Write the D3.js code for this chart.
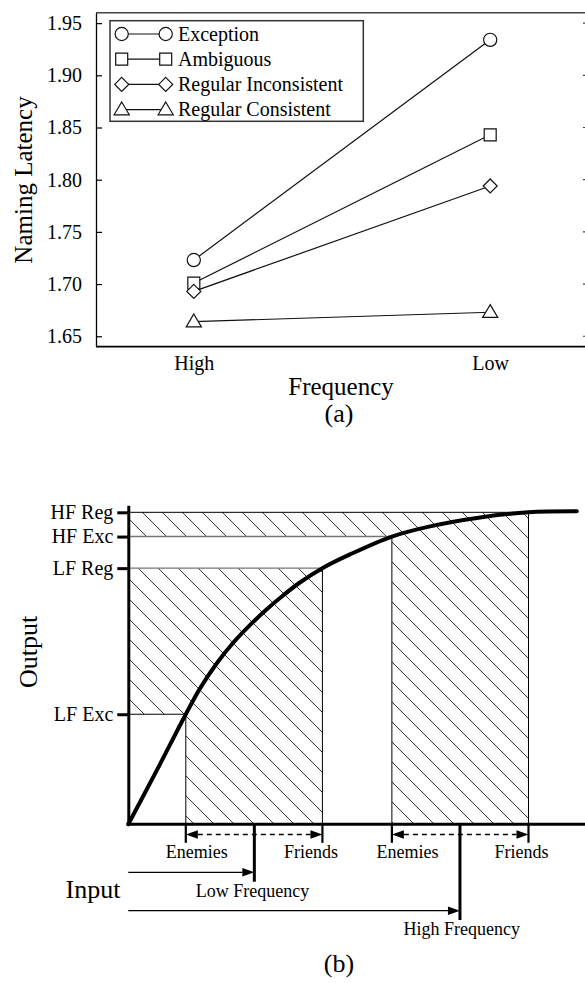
<!DOCTYPE html>
<html>
<head>
<meta charset="utf-8">
<script src="https://cdn.jsdelivr.net/npm/d3@7"></script>
<style>
  html, body { margin: 0; background: #fff; overflow: hidden; }
  svg { display: block; }
  svg text { font-family: "Liberation Serif", "Times New Roman", serif; fill: #000; }
</style>
</head>
<body>
<svg id="chart" width="585" height="983"></svg>
<script>
// ---- panel (a) data
const freqLevels = ["High", "Low"];
const seriesNames = ["Exception", "Ambiguous", "Regular Inconsistent", "Regular Consistent"];
const exceptionVals = [1.723, 1.934];
const ambiguousVals = [1.701, 1.843];
const regInconsistentVals = [1.693, 1.794];
const regConsistentVals = [1.664, 1.673];
const latencyTicks = [1.65, 1.70, 1.75, 1.80, 1.85, 1.90, 1.95];

// ---- panel (b) data (input 0-10, output 0-1)
const outputLabels = ["HF Reg", "HF Exc", "LF Reg", "LF Exc"];
const outputLevels = [0.978, 0.902, 0.803, 0.345];
const curveInput  = [0, 0.63, 1.25, 1.56, 1.92, 2.28, 2.65, 3.01, 3.37, 3.73, 4.22, 4.82, 5.73, 6.56, 7.65, 8.70, 9.75];
const curveOutput = [0, 0.172, 0.345, 0.426, 0.504, 0.569, 0.625, 0.674, 0.718, 0.758, 0.803, 0.846, 0.902, 0.934, 0.962, 0.978, 0.981];
const freqGroups = ["Low Frequency", "High Frequency"];
const enemiesInput = [1.25, 5.73];
const meanInput = [2.74, 7.21];
const friendsInput = [4.22, 8.70];
const enemiesLabelAt = [1.49, 6.07];
const friendsLabelAt = [3.97, 8.55];
const freqLabelAt = [2.70, 7.25];

const svg = d3.select("#chart");

// ================= panel (a) =================
const seriesVals = [exceptionVals, ambiguousVals, regInconsistentVals, regConsistentVals];

const x = d3.scalePoint().domain(freqLevels).range([96, 588]).padding(0.33);
const y = d3.scaleLinear().domain([1.64, 1.96]).range([346.7, 12.7]);

const gA = svg.append("g");

// frame
gA.append("line").attr("x1", 96).attr("x2", 590).attr("y1", 12.7).attr("y2", 12.7)
  .attr("stroke", "#444").attr("stroke-width", 1.6);
gA.append("line").attr("x1", 96).attr("x2", 590).attr("y1", 346.7).attr("y2", 346.7)
  .attr("stroke", "#000").attr("stroke-width", 1.8);

const leftAxis = gA.append("g")
  .attr("transform", "translate(96,0)")
  .call(d3.axisLeft(y).tickValues(latencyTicks).tickFormat(d3.format(".2f"))
    .tickSizeInner(-6).tickSizeOuter(0).tickPadding(14));
leftAxis.select(".domain").attr("stroke-width", 1.3);
leftAxis.selectAll(".tick line").attr("stroke-width", 1.2);
leftAxis.selectAll("text").attr("font-size", 20).attr("font-family", "Liberation Serif");

// right-hand ticks (the right axis itself sits just past the page edge)
gA.append("g").selectAll("line").data(latencyTicks).enter().append("line")
  .attr("x1", 583).attr("x2", 588)
  .attr("y1", d => y(d)).attr("y2", d => y(d))
  .attr("stroke", "#444").attr("stroke-width", 1.2);

const bottomAxis = gA.append("g")
  .attr("transform", "translate(0,346.7)")
  .call(d3.axisBottom(x).tickSize(0));
bottomAxis.select(".domain").remove();
bottomAxis.selectAll("text").attr("font-size", 20).attr("font-family", "Liberation Serif")
  .attr("y", 23).attr("dy", 0);

// axis titles
gA.append("text")
  .attr("transform", "translate(32,180) rotate(-90)")
  .attr("text-anchor", "middle").attr("font-size", 25)
  .text("Naming Latency");
gA.append("text").attr("x", 341).attr("y", 395)
  .attr("text-anchor", "middle").attr("font-size", 25).text("Frequency");
gA.append("text").attr("x", 339).attr("y", 422)
  .attr("text-anchor", "middle").attr("font-size", 26).text("(a)");

// marker shapes
function markerPath(i) {
  if (i === 0) return d3.symbol(d3.symbolCircle, Math.PI * 6.6 * 6.6)();
  if (i === 1) return "M-6,-6H6V6H-6Z";
  if (i === 2) return "M0,-7L7,0L0,7L-7,0Z";
  return "M0,-7.6L7.6,5.2L-7.6,5.2Z";
}

const lineGen = d3.line().x((d, i) => x(freqLevels[i])).y(d => y(d));

seriesVals.forEach((vals, s) => {
  gA.append("path").datum(vals)
    .attr("d", lineGen)
    .attr("fill", "none").attr("stroke", "#111").attr("stroke-width", 1.2);
  gA.selectAll(null).data(vals).enter().append("path")
    .attr("transform", (d, i) => `translate(${x(freqLevels[i])},${y(d)})`)
    .attr("d", markerPath(s))
    .attr("fill", "#fff").attr("stroke", "#111").attr("stroke-width", 1.2);
});

// legend
const legend = gA.append("g");
legend.append("rect").attr("x", 110).attr("y", 20.7).attr("width", 253.3).attr("height", 100.6)
  .attr("fill", "#fff").attr("stroke", "#333").attr("stroke-width", 1.5);
seriesNames.forEach((name, s) => {
  const cy = 34 + s * 25.2;
  legend.append("line").attr("x1", 121.7).attr("x2", 165.7).attr("y1", cy).attr("y2", cy)
    .attr("stroke", "#111").attr("stroke-width", 1.2);
  [121.7, 165.7].forEach(mx => {
    legend.append("path").attr("transform", `translate(${mx},${cy})`)
      .attr("d", markerPath(s))
      .attr("fill", "#fff").attr("stroke", "#111").attr("stroke-width", 1.2);
  });
  legend.append("text").attr("x", 178).attr("y", cy + 6.8)
    .attr("font-size", 20).text(name);
});

// ================= panel (b) =================
const xIn = d3.scaleLinear().domain([0, 10]).range([128.3, 588.3]);
const yOut = d3.scaleLinear().domain([0, 1]).range([824.3, 505.3]);
const gB = svg.append("g");

const defs = svg.append("defs");
const pat = defs.append("pattern").attr("id", "hatch")
  .attr("patternUnits", "userSpaceOnUse").attr("x", 10).attr("y", 0)
  .attr("width", 20).attr("height", 20);
pat.append("path")
  .attr("d", "M0,0L20,20M-5,15L5,25M15,-5L25,5")
  .attr("stroke", "#3a3a3a").attr("stroke-width", 1);

const lvl = name => outputLevels[outputLabels.indexOf(name)];

// hatched regions: [enemies, friends, lower level, upper level]
const regions = [
  [enemiesInput[1], friendsInput[1], lvl("HF Exc"), lvl("HF Reg")],
  [enemiesInput[0], friendsInput[0], lvl("LF Exc"), lvl("LF Reg")]
];
regions.forEach(([e, f, lo, hi]) => {
  const pts = [[0, hi], [f, hi], [f, 0], [e, 0], [e, lo], [0, lo]];
  gB.append("path")
    .attr("d", "M" + pts.map(p => xIn(p[0]) + "," + yOut(p[1])).join("L") + "Z")
    .attr("fill", "url(#hatch)").attr("stroke", "none");
  // vertical edges
  gB.append("line").attr("x1", xIn(f)).attr("x2", xIn(f)).attr("y1", yOut(hi)).attr("y2", yOut(0))
    .attr("stroke", "#000").attr("stroke-width", 1);
  gB.append("line").attr("x1", xIn(e)).attr("x2", xIn(e)).attr("y1", yOut(lo)).attr("y2", yOut(0))
    .attr("stroke", "#000").attr("stroke-width", 1);
});
// horizontal guide lines
gB.append("line").attr("x1", xIn(0)).attr("x2", xIn(friendsInput[1]))
  .attr("y1", yOut(lvl("HF Reg"))).attr("y2", yOut(lvl("HF Reg")))
  .attr("stroke", "#000").attr("stroke-width", 1);
gB.append("line").attr("x1", xIn(0)).attr("x2", xIn(enemiesInput[1]))
  .attr("y1", yOut(lvl("HF Exc"))).attr("y2", yOut(lvl("HF Exc")))
  .attr("stroke", "#777").attr("stroke-width", 1.4);
gB.append("line").attr("x1", xIn(0)).attr("x2", xIn(friendsInput[0]))
  .attr("y1", yOut(lvl("LF Reg"))).attr("y2", yOut(lvl("LF Reg")))
  .attr("stroke", "#777").attr("stroke-width", 1.4);
gB.append("line").attr("x1", xIn(0)).attr("x2", xIn(enemiesInput[0]))
  .attr("y1", yOut(lvl("LF Exc"))).attr("y2", yOut(lvl("LF Exc")))
  .attr("stroke", "#000").attr("stroke-width", 1);

// output axis
const outAxis = gB.append("g")
  .attr("transform", `translate(${xIn(0)},0)`)
  .call(d3.axisLeft(yOut).tickValues(outputLevels)
    .tickFormat((d, i) => outputLabels[i]).tickSize(11).tickSizeOuter(0).tickPadding(4));
outAxis.select(".domain").attr("stroke-width", 3);
outAxis.selectAll(".tick line").attr("stroke-width", 3);
outAxis.selectAll("text").attr("font-size", 20).attr("font-family", "Liberation Serif");

// input axis
gB.append("line").attr("x1", xIn(0) - 1.5).attr("x2", 590)
  .attr("y1", yOut(0)).attr("y2", yOut(0))
  .attr("stroke", "#000").attr("stroke-width", 3);

// response curve
gB.append("path")
  .datum(curveInput.map((v, i) => [v, curveOutput[i]]))
  .attr("d", d3.line().x(d => xIn(d[0])).y(d => yOut(d[1])).curve(d3.curveCatmullRom.alpha(0.5)))
  .attr("fill", "none").attr("stroke", "#000").attr("stroke-width", 4)
  .attr("stroke-linecap", "round");

gB.append("text")
  .attr("transform", "translate(37,652) rotate(-90)")
  .attr("text-anchor", "middle").attr("font-size", 26).text("Output");

// arrowhead helper
function arrowHead(tx, ty, dir) {
  gB.append("path")
    .attr("d", `M${tx},${ty}L${tx - dir * 12},${ty - 4.2}L${tx - dir * 12},${ty + 4.2}Z`)
    .attr("fill", "#000");
}

const y0 = yOut(0);
const bandY = y0 + 10.2;
const meanEnds = [881.7, 920];
const inputArrowY = [872.3, 910.7];

freqGroups.forEach((name, k) => {
  const ex = xIn(enemiesInput[k]), fx = xIn(friendsInput[k]), mx = xIn(meanInput[k]);
  [ex, fx].forEach(px => {
    gB.append("line").attr("x1", px).attr("x2", px).attr("y1", y0).attr("y2", y0 + 18.5)
      .attr("stroke", "#000").attr("stroke-width", 2.2);
  });
  gB.append("line").attr("x1", ex + 12).attr("x2", fx - 12).attr("y1", bandY).attr("y2", bandY)
    .attr("stroke", "#000").attr("stroke-width", 1.3).attr("stroke-dasharray", "5,4");
  arrowHead(ex, bandY, -1);
  arrowHead(fx, bandY, 1);
  gB.append("line").attr("x1", mx).attr("x2", mx).attr("y1", y0).attr("y2", meanEnds[k])
    .attr("stroke", "#000").attr("stroke-width", 3);
  gB.append("line").attr("x1", xIn(0)).attr("x2", mx - 12)
    .attr("y1", inputArrowY[k]).attr("y2", inputArrowY[k])
    .attr("stroke", "#000").attr("stroke-width", 1.3);
  arrowHead(mx, inputArrowY[k], 1);

  gB.append("text").attr("x", xIn(enemiesLabelAt[k])).attr("y", 857.5)
    .attr("text-anchor", "middle").attr("font-size", 18).text("Enemies");
  gB.append("text").attr("x", xIn(friendsLabelAt[k])).attr("y", 857.5)
    .attr("text-anchor", "middle").attr("font-size", 18).text("Friends");
  gB.append("text").attr("x", xIn(freqLabelAt[k])).attr("y", meanEnds[k] + 14.8)
    .attr("text-anchor", "middle").attr("font-size", 18).text(name);
});

gB.append("text").attr("x", 93).attr("y", 897.5)
  .attr("text-anchor", "middle").attr("font-size", 26).text("Input");
gB.append("text").attr("x", 339).attr("y", 972)
  .attr("text-anchor", "middle").attr("font-size", 26).text("(b)");
</script>
</body>
</html>
